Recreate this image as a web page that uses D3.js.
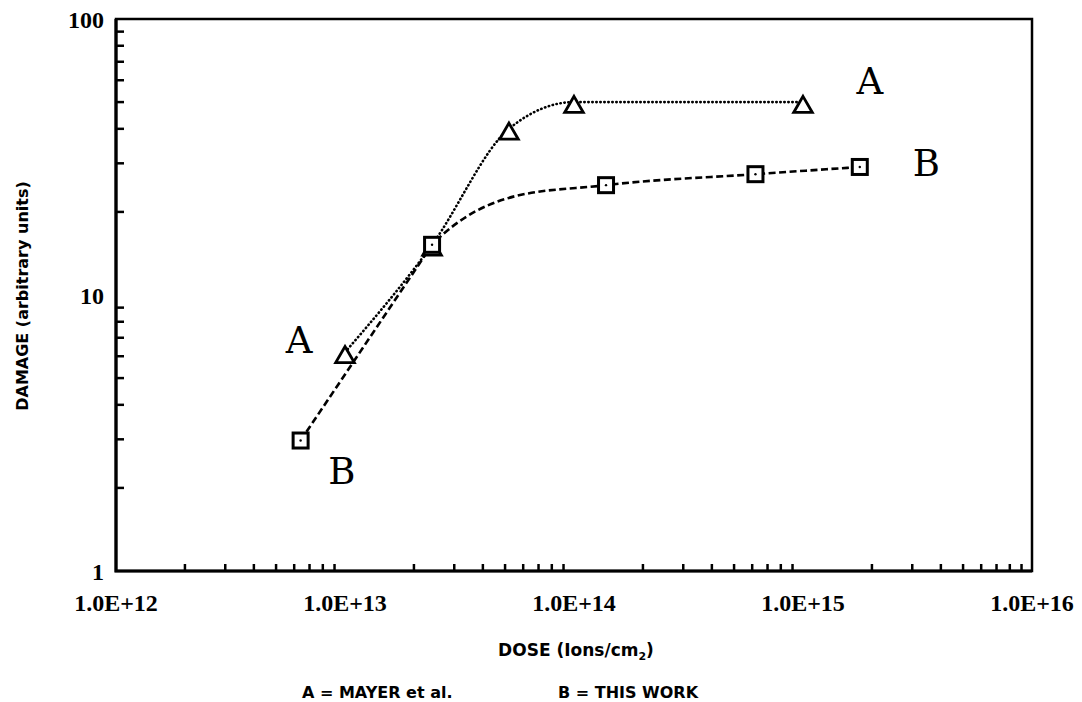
<!DOCTYPE html>
<html>
<head>
<meta charset="utf-8">
<script src="https://cdn.jsdelivr.net/npm/d3@7"></script>
<style>
  body { margin: 0; background: #fff; }
  svg { display: block; }
</style>
</head>
<body>
<div id="chart"></div>
<script>
// series A: Mayer et al. (triangles, dotted)
const doseA = [1.0e13, 2.4e13, 5.2e13, 1.0e14, 1.0e15];
const damageA = [6.2, 15.2, 40, 50, 50];
// series B: this work (squares, dashed)
const doseB = [6.4e12, 2.4e13, 1.38e14, 6.2e14, 1.77e15];
const damageB = [2.97, 15.2, 25, 27.4, 29.1];

const xTickValues = [1e12, 1e13, 1e14, 1e15, 1e16];
const xTickLabels = ["1.0E+12", "1.0E+13", "1.0E+14", "1.0E+15", "1.0E+16"];
const yTickValues = [1, 10, 100];
const yTickLabels = ["1", "10", "100"];

// curve letters placed beside the curves
const letterText = ["A", "B", "A", "B"];
const letterDose = [6.3e12, 9.7e12, 1.96e15, 3.46e15];
const letterDamage = [6.9, 2.32, 59.9, 30.1];

const width = 1082, height = 702;
const margin = {top: 19, right: 50, bottom: 131, left: 116};

const svg = d3.select("#chart")
  .append("svg")
    .attr("width", width)
    .attr("height", height);

const x = d3.scaleLog().domain([1e12, 1e16]).range([margin.left, width - margin.right]);
const y = d3.scaleLog().domain([1, 100]).range([height - margin.bottom, margin.top]);

// minor ticks 2..9 in every decade
let minorX = [], minorY = [];
for (let e = 12; e < 16; e++) for (let m = 2; m <= 9; m++) minorX.push(m * Math.pow(10, e));
for (let e = 0; e < 2; e++) for (let m = 2; m <= 9; m++) minorY.push(m * Math.pow(10, e));

const bottom = y(1), left = x(1e12);

svg.append("g")
  .selectAll("line")
  .data(minorX)
  .enter()
  .append("line")
    .attr("x1", d => x(d)).attr("x2", d => x(d))
    .attr("y1", bottom).attr("y2", bottom - 7)
    .attr("stroke", "#000").attr("stroke-width", 2.5);

svg.append("g")
  .selectAll("line")
  .data(minorY)
  .enter()
  .append("line")
    .attr("y1", d => y(d)).attr("y2", d => y(d))
    .attr("x1", left).attr("x2", left + 8)
    .attr("stroke", "#000").attr("stroke-width", 2.5);

// frame
svg.append("rect")
  .attr("x", x(1e12)).attr("y", y(100))
  .attr("width", x(1e16) - x(1e12)).attr("height", y(1) - y(100))
  .attr("fill", "none").attr("stroke", "#000").attr("stroke-width", 2.5);
// heavier left and bottom axis
svg.append("path")
  .attr("d", "M" + left + "," + y(100) + "V" + bottom + "H" + x(1e16))
  .attr("fill", "none").attr("stroke", "#000").attr("stroke-width", 3.2);

// tick labels
svg.append("g")
  .selectAll("text")
  .data(xTickValues)
  .enter()
  .append("text")
    .attr("x", d => x(d))
    .attr("y", bottom + 40)
    .attr("text-anchor", "middle")
    .attr("font-family", "Liberation Serif")
    .attr("font-weight", "bold")
    .attr("font-size", "24px")
    .text((d, i) => xTickLabels[i]);

svg.append("g")
  .selectAll("text")
  .data(yTickValues)
  .enter()
  .append("text")
    .attr("x", left - 12)
    .attr("y", d => y(d) + 9)
    .attr("text-anchor", "end")
    .attr("font-family", "Liberation Serif")
    .attr("font-weight", "bold")
    .attr("font-size", "24px")
    .text((d, i) => yTickLabels[i]);

// axis titles
const xt = svg.append("text")
  .attr("x", 576)
  .attr("y", 656)
  .attr("text-anchor", "middle")
  .attr("font-family", "DejaVu Sans")
  .attr("font-weight", "bold")
  .attr("font-size", "17px");
xt.append("tspan").text("DOSE (Ions/cm");
xt.append("tspan").attr("font-size", "11px").attr("dy", 4).text("2");
xt.append("tspan").attr("dy", -4).text(")");

svg.append("text")
  .attr("transform", "translate(28,296) rotate(-90)")
  .attr("text-anchor", "middle")
  .attr("font-family", "DejaVu Sans")
  .attr("font-weight", "bold")
  .attr("font-size", "16px")
  .text("DAMAGE (arbitrary units)");

// legend line
svg.append("text")
  .attr("x", 302).attr("y", 698)
  .attr("font-family", "DejaVu Sans").attr("font-weight", "bold").attr("font-size", "16px")
  .text("A = MAYER et al.");
svg.append("text")
  .attr("x", 558).attr("y", 698)
  .attr("font-family", "DejaVu Sans").attr("font-weight", "bold").attr("font-size", "16px")
  .text("B = THIS WORK");

const dataA = doseA.map((d, i) => ({x: d, y: damageA[i]}));
const dataB = doseB.map((d, i) => ({x: d, y: damageB[i]}));

// A: monotone spline
const lineMono = d3.line()
  .x(d => x(d.x))
  .y(d => y(d.y))
  .curve(d3.curveMonotoneX);

// B: straight rise, then a knee into the plateau (hermite pieces,
// tangents joined under the square markers)
function kneeCurve(data) {
  const p = data.map(d => [x(d.x), y(d.y)]);
  const s = [];
  for (let i = 0; i < p.length - 1; i++) s.push((p[i + 1][1] - p[i][1]) / (p[i + 1][0] - p[i][0]));
  const harm = (a, b) => 2 * a * b / (a + b);
  const n = p.length - 1;
  const tin = p.map((d, j) => j === 0 ? s[0] : (j <= 1 || j === n ? s[j - 1] : harm(s[j - 1], s[j])));
  const tout = p.map((d, j) => {
    if (j === 0 || j === n) return s[Math.min(j, n - 1)];
    if (j === 1) return Math.sign(s[0]) * Math.min(Math.abs(s[0]), 3 * Math.abs(s[1]));
    return harm(s[j - 1], s[j]);
  });
  const path = d3.path();
  path.moveTo(p[0][0], p[0][1]);
  for (let i = 0; i < n; i++) {
    const h = (p[i + 1][0] - p[i][0]) / 3;
    path.bezierCurveTo(p[i][0] + h, p[i][1] + tout[i] * h,
                       p[i + 1][0] - h, p[i + 1][1] - tin[i + 1] * h,
                       p[i + 1][0], p[i + 1][1]);
  }
  return path.toString();
}

svg.append("path")
  .datum(dataA)
  .attr("d", lineMono)
  .attr("fill", "none")
  .attr("stroke", "#000")
  .attr("stroke-width", 2.6)
  .attr("stroke-linecap", "round")
  .attr("stroke-dasharray", "0.4,3.6");

svg.append("path")
  .datum(dataB)
  .attr("d", kneeCurve)
  .attr("fill", "none")
  .attr("stroke", "#000")
  .attr("stroke-width", 2.6)
  .attr("stroke-dasharray", "7,3.5");

// markers
const tri = d3.symbol().type(d3.symbolTriangle).size(150);
svg.append("g")
  .selectAll("path")
  .data(dataA)
  .enter()
  .append("path")
    .attr("d", tri)
    .attr("transform", d => "translate(" + x(d.x) + "," + (y(d.y) + 5) + ")")
    .attr("fill", "#fff")
    .attr("stroke", "#000")
    .attr("stroke-width", 2.8);

svg.append("g")
  .selectAll("rect")
  .data(dataB)
  .enter()
  .append("rect")
    .attr("x", d => x(d.x) - 7.5)
    .attr("y", d => y(d.y) - 7.5)
    .attr("width", 15).attr("height", 15)
    .attr("fill", "#fff")
    .attr("stroke", "#000")
    .attr("stroke-width", 3);

svg.append("g")
  .selectAll("circle")
  .data(dataB)
  .enter()
  .append("circle")
    .attr("cx", d => x(d.x))
    .attr("cy", d => y(d.y))
    .attr("r", 1.2)
    .attr("fill", "#000");

// curve letters
svg.append("g")
  .selectAll("text")
  .data(letterText)
  .enter()
  .append("text")
    .attr("x", (d, i) => x(letterDose[i]))
    .attr("y", (d, i) => y(letterDamage[i]) + 13.5)
    .attr("text-anchor", "middle")
    .attr("font-family", "DejaVu Serif")
    .attr("font-size", "37px")
    .text(d => d);
</script>
</body>
</html>
